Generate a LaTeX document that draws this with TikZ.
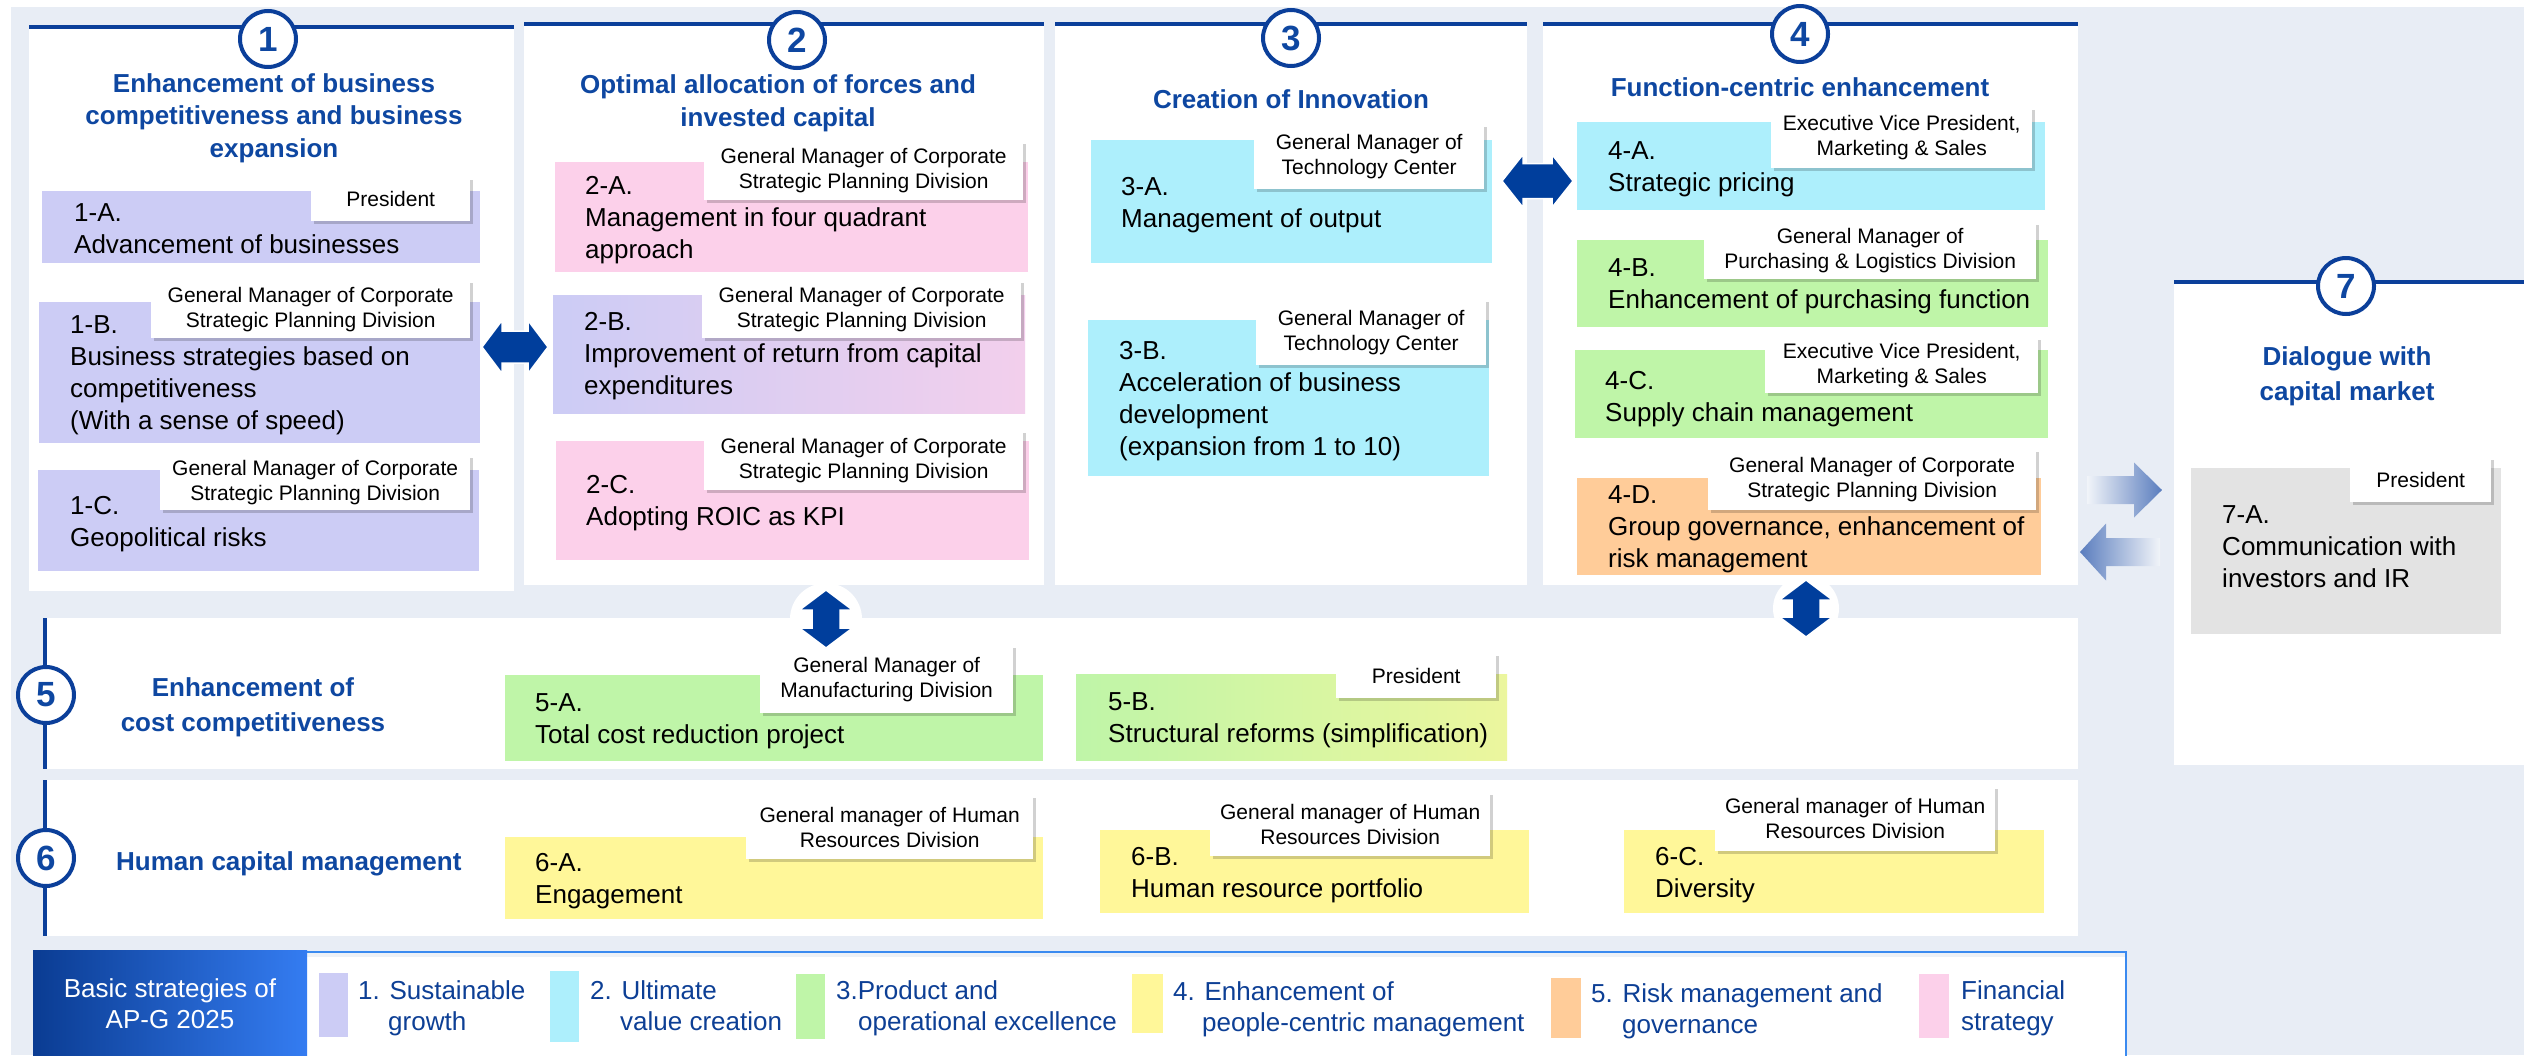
\documentclass[tikz,border=0pt]{standalone}
\usepackage{fontspec}
\setmainfont{Liberation Sans}
\usetikzlibrary{shadows,calc}
\definecolor{bggray}{HTML}{E8EDF5}
\definecolor{navy}{HTML}{0B3F9A}
\definecolor{ttlblue}{HTML}{0E47A1}
\definecolor{arrowblue}{HTML}{003E9C}
\definecolor{steel}{HTML}{5A7DBE}
\definecolor{lav}{HTML}{CCCCF5}
\definecolor{cyanc}{HTML}{ADEFFC}
\definecolor{greenc}{HTML}{BFF5A8}
\definecolor{yellowc}{HTML}{FFF799}
\definecolor{orangec}{HTML}{FFCC99}
\definecolor{pinkc}{HTML}{FCD0EA}
\definecolor{grayc}{HTML}{E3E3E3}
\definecolor{legtext}{HTML}{0D3F95}
\definecolor{legline}{HTML}{3A8AF0}
\newcommand\bodyf{\fontsize{26}{32}\selectfont}
\newcommand\labf{\fontsize{21}{25}\selectfont}
\newcommand\ttlf{\fontsize{26}{32.5}\selectfont\bfseries}
\newcommand\numf{\fontsize{35}{40}\selectfont\bfseries}
\newcommand\myHarrow[5]{%
  \fill[arrowblue, draw=white, line width=1.5] (#1) -- ($(#1)+(#5,-#4)$) -- ($(#1)+(#5,-#3)$) -- ($(#2)+(-#5,-#3)$) -- ($(#2)+(-#5,-#4)$) -- (#2) -- ($(#2)+(-#5,#4)$) -- ($(#2)+(-#5,#3)$) -- ($(#1)+(#5,#3)$) -- ($(#1)+(#5,#4)$) -- cycle;}
\newcommand\myVarrow[5]{%
  \fill[arrowblue, draw=white, line width=1.5] (#1) -- ($(#1)+(#4,#5)$) -- ($(#1)+(#3,#5)$) -- ($(#2)+(#3,-#5)$) -- ($(#2)+(#4,-#5)$) -- (#2) -- ($(#2)+(-#4,-#5)$) -- ($(#2)+(-#3,-#5)$) -- ($(#1)+(-#3,#5)$) -- ($(#1)+(-#4,#5)$) -- cycle;}
\begin{document}
\begin{tikzpicture}[x=1pt,y=-1pt,
  panel/.style={fill=white, inner sep=0, anchor=north west},
  box/.style={anchor=north west, inner sep=0},
  lab/.style={fill=white, anchor=north west, inner sep=0, align=center, font=\labf,
    drop shadow={shadow xshift=3pt, shadow yshift=-3pt, fill=black, opacity=0.18}},
  body/.style={anchor=base west, align=left, inner sep=0, font=\bodyf},
  ttl/.style={anchor=base, align=center, inner sep=0, font=\ttlf, text=ttlblue},
  num/.style={circle, draw=navy, line width=4, fill=white, minimum size=56, inner sep=0, font=\numf, text=ttlblue},
  navyline/.style={draw=navy, line width=4},
  leg/.style={anchor=base west, align=left, inner sep=0, font=\fontsize{26}{31}\selectfont, text=legtext},
  sw/.style={anchor=north west, inner sep=0, minimum width=29}
]
\useasboundingbox (0,0) rectangle (2524,1055);
\fill[white] (0,0) rectangle (2524,1055);
\fill[bggray] (11,7) rectangle (2524,1055);

% panels
\node[panel, minimum width=485, minimum height=564] (p1) at (29,27) {};
\node[panel, minimum width=520, minimum height=561] (p2) at (524,24) {};
\node[panel, minimum width=472, minimum height=561] (p3) at (1055,24) {};
\node[panel, minimum width=535, minimum height=561] (p4) at (1543,24) {};
\node[panel, minimum width=350, minimum height=483] (p7) at (2174,282) {};
\node[panel, minimum width=2035, minimum height=151] (r5) at (43,618) {};
\node[panel, minimum width=2035, minimum height=156] (r6) at (43,780) {};
\draw[navyline] (p1.north west) -- (p1.north east);
\draw[navyline] (p2.north west) -- (p2.north east);
\draw[navyline] (p3.north west) -- (p3.north east);
\draw[navyline] (p4.north west) -- (p4.north east);
\draw[navyline] (p7.north west) -- (p7.north east);
\draw[navyline] ($(r5.north west)+(2,0)$) -- ($(r5.south west)+(2,0)$);
\draw[navyline] ($(r6.north west)+(2,0)$) -- ($(r6.south west)+(2,0)$);

% titles (anchor = baseline of last line)
\node[ttl] (t1) at (274,157) {Enhancement of business\\competitiveness and business\\expansion};
\node[ttl] (t2) at (778,126) {Optimal allocation of forces and\\invested capital};
\node[ttl] (t3) at (1291,108) {Creation of Innovation};
\node[ttl] (t4) at (1800,96) {Function-centric enhancement};
\node[ttl, font=\fontsize{26}{35}\selectfont\bfseries] (t7) at (2347,400) {Dialogue with\\capital market};
\node[ttl, font=\fontsize{26}{35}\selectfont\bfseries] (t5) at (253,731) {Enhancement of\\cost competitiveness};
\node[ttl, anchor=base west] (t6) at (116,870) {Human capital management};

% boxes
\node[box, fill=lav, minimum width=438, minimum height=72] (b1a) at (42,191) {};
\node[box, fill=lav, minimum width=441, minimum height=141] (b1b) at (39,302) {};
\node[box, fill=lav, minimum width=441, minimum height=101] (b1c) at (38,470) {};
\node[box, fill=pinkc, minimum width=473, minimum height=110] (b2a) at (555,162) {};
\node[box, left color=lav, middle color=lav, right color=pinkc!80!lav, minimum width=472, minimum height=118] (b2b) at (553,295) {};
\node[box, fill=pinkc, minimum width=473, minimum height=119] (b2c) at (556,441) {};
\node[box, fill=cyanc, minimum width=401, minimum height=123] (b3a) at (1091,140) {};
\node[box, fill=cyanc, minimum width=401, minimum height=156] (b3b) at (1088,320) {};
\node[box, fill=cyanc, minimum width=468, minimum height=88] (b4a) at (1577,122) {};
\node[box, fill=greenc, minimum width=471, minimum height=87] (b4b) at (1577,240) {};
\node[box, fill=greenc, minimum width=473, minimum height=88] (b4c) at (1575,350) {};
\node[box, fill=orangec, minimum width=464, minimum height=97] (b4d) at (1577,478) {};
\node[box, fill=grayc, minimum width=310, minimum height=166] (b7a) at (2191,468) {};
\node[box, fill=greenc, minimum width=538, minimum height=86] (b5a) at (505,675) {};
\node[box, left color=greenc, middle color=greenc!85!yellowc, right color=yellowc!70!greenc, minimum width=431, minimum height=86] (b5b) at (1076,674) {};
\node[box, fill=yellowc, minimum width=538, minimum height=82] (b6a) at (505,837) {};
\node[box, fill=yellowc, minimum width=429, minimum height=83] (b6b) at (1100,830) {};
\node[box, fill=yellowc, minimum width=420, minimum height=83] (b6c) at (1624,830) {};

% box texts (anchor = baseline of last line)
\node[body] (x1a) at (74,253) {1-A.\\Advancement of businesses};
\node[body] (x1b) at (70,429) {1-B.\\Business strategies based on\\competitiveness\\(With a sense of speed)};
\node[body] (x1c) at (70,546) {1-C.\\Geopolitical risks};
\node[body] (x2a) at (585,258) {2-A.\\Management in four quadrant\\approach};
\node[body] (x2b) at (584,394) {2-B.\\Improvement of return from capital\\expenditures};
\node[body] (x2c) at (586,525) {2-C.\\Adopting ROIC as KPI};
\node[body] (x3a) at (1121,227) {3-A.\\Management of output};
\node[body] (x3b) at (1119,455) {3-B.\\Acceleration of business\\development\\(expansion from 1 to 10)};
\node[body] (x4a) at (1608,191) {4-A.\\Strategic pricing};
\node[body] (x4b) at (1608,308) {4-B.\\Enhancement of purchasing function};
\node[body] (x4c) at (1605,421) {4-C.\\Supply chain management};
\node[body] (x4d) at (1608,567) {4-D.\\Group governance, enhancement of\\risk management};
\node[body] (x7a) at (2222,587) {7-A.\\Communication with\\investors and IR};
\node[body] (x5a) at (535,743) {5-A.\\Total cost reduction project};
\node[body] (x5b) at (1108,742) {5-B.\\Structural reforms (simplification)};
\node[body] (x6a) at (535,903) {6-A.\\Engagement};
\node[body] (x6b) at (1131,897) {6-B.\\Human resource portfolio};
\node[body] (x6c) at (1655,897) {6-C.\\Diversity};

% labels
\node[lab, minimum width=159, minimum height=44] (l1a) at (311,177) {President};
\node[lab, minimum width=319, minimum height=58] (l1b) at (151,280) {General Manager of Corporate\\Strategic Planning Division};
\node[lab, minimum width=310, minimum height=55] (l1c) at (160,455) {General Manager of Corporate\\Strategic Planning Division};
\node[lab, minimum width=319, minimum height=59] (l2a) at (704,141) {General Manager of Corporate\\Strategic Planning Division};
\node[lab, minimum width=319, minimum height=58] (l2b) at (702,280) {General Manager of Corporate\\Strategic Planning Division};
\node[lab, minimum width=319, minimum height=60] (l2c) at (704,430) {General Manager of Corporate\\Strategic Planning Division};
\node[lab, minimum width=230, minimum height=65] (l3a) at (1254,124) {General Manager of\\Technology Center};
\node[lab, minimum width=230, minimum height=66] (l3b) at (1256,299) {General Manager of\\Technology Center};
\node[lab, minimum width=261, minimum height=61] (l4a) at (1771,107) {Executive Vice President,\\Marketing \& Sales};
\node[lab, minimum width=332, minimum height=57] (l4b) at (1704,222) {General Manager of\\Purchasing \& Logistics Division};
\node[lab, minimum width=273, minimum height=56] (l4c) at (1765,337) {Executive Vice President,\\Marketing \& Sales};
\node[lab, minimum width=328, minimum height=61] (l4d) at (1708,449) {General Manager of Corporate\\Strategic Planning Division};
\node[lab, minimum width=141, minimum height=45] (l7a) at (2350,457) {President};
\node[lab, minimum width=253, minimum height=68] (l5a) at (760,645) {General Manager of\\Manufacturing Division};
\node[lab, minimum width=160, minimum height=45] (l5b) at (1336,653) {President};
\node[lab, minimum width=287, minimum height=64] (l6a) at (746,795) {General manager of Human\\Resources Division};
\node[lab, minimum width=280, minimum height=64] (l6b) at (1210,792) {General manager of Human\\Resources Division};
\node[lab, minimum width=280, minimum height=65] (l6c) at (1715,786) {General manager of Human\\Resources Division};

% number circles
\node[num] (c1) at (268,39) {1};
\node[num] (c2) at (797,40) {2};
\node[num] (c3) at (1291,38) {3};
\node[num] (c4) at (1800,34) {4};
\node[num] (c7) at (2346,286) {7};
\node[num] (c5) at (46,695) {5};
\node[num] (c6) at (46,858) {6};

% block arrows
\coordinate (h12a) at (482,347);
\coordinate (h12b) at (548,347);
\coordinate (h34a) at (1502,181);
\coordinate (h34b) at (1573,181);
\coordinate (v1a) at (826,590);
\coordinate (v1b) at (826,648);
\coordinate (v2a) at (1806,580);
\coordinate (v2b) at (1806,637);
\myHarrow{h12a}{h12b}{16}{26.5}{20}
\myHarrow{h34a}{h34b}{17.5}{26.5}{21}
\fill[white] ($(v1a)!0.5!(v1b)$) circle[radius=36];
\fill[white] ($(v2a)!0.5!(v2b)$) circle[radius=33];
\myVarrow{v1a}{v1b}{14}{26.5}{20}
\myVarrow{v2a}{v2b}{14}{26.5}{20}

% gradient arrows to/from panel 7
\coordinate (ra) at (2087,490);
\coordinate (rb) at (2162,490);
\coordinate (la) at (2080,552);
\coordinate (lb) at (2160,552);
\shade[left color=white!40!bggray, right color=steel] ($(ra)+(0,-14)$) -- ($(rb)+(-28,-14)$) -- ($(rb)+(-28,-27.5)$) -- (rb) -- ($(rb)+(-28,27.5)$) -- ($(rb)+(-28,14)$) -- ($(ra)+(0,14)$) -- cycle;
\shade[left color=steel, right color=white!40!bggray] (la) -- ($(la)+(26,-28.5)$) -- ($(la)+(26,-14)$) -- ($(lb)+(0,-14)$) -- ($(lb)+(0,14)$) -- ($(la)+(26,14)$) -- ($(la)+(26,28.5)$) -- cycle;

% legend
\fill[white] (307,952) rectangle (2126,1058);
\fill[bggray!80!white] (307,953) rectangle (2126,957);
\draw[legline, line width=2.5] (307,952) -- (2126,952) -- (2126,1058);
\node[box, left color=navy!95!black, right color=legline!90!blue, minimum width=274, minimum height=106] (lg) at (33,950) {};
\node[anchor=base, align=center, inner sep=0, text=white, font=\fontsize{26}{31}\selectfont] (lgt) at (170,1028) {Basic strategies of\\AP-G 2025};
\node[sw, fill=lav, minimum height=64] (s1) at (319,973) {};
\node[sw, fill=cyanc, minimum height=71] (s2) at (550,971) {};
\node[sw, fill=greenc, minimum height=65] (s3) at (796,974) {};
\node[sw, fill=yellowc, minimum width=31, minimum height=59] (s4) at (1132,974) {};
\node[sw, fill=orangec, minimum width=30, minimum height=60] (s5) at (1551,978) {};
\node[sw, fill=pinkc, minimum width=30, minimum height=64] (s6) at (1919,974) {};
\node[leg] (g1) at (358,1030) {1. Sustainable\\\hspace*{30pt}growth};
\node[leg] (g2) at (590,1030) {2. Ultimate\\\hspace*{30pt}value creation};
\node[leg] (g3) at (836,1030) {3.Product and\\\hspace*{22pt}operational excellence};
\node[leg] (g4) at (1173,1031) {4. Enhancement of\\\hspace*{29pt}people-centric management};
\node[leg] (g5) at (1591,1033) {5. Risk management and\\\hspace*{31pt}governance};
\node[leg] (g6) at (1961,1030) {Financial\\strategy};
\end{tikzpicture}
\end{document}
